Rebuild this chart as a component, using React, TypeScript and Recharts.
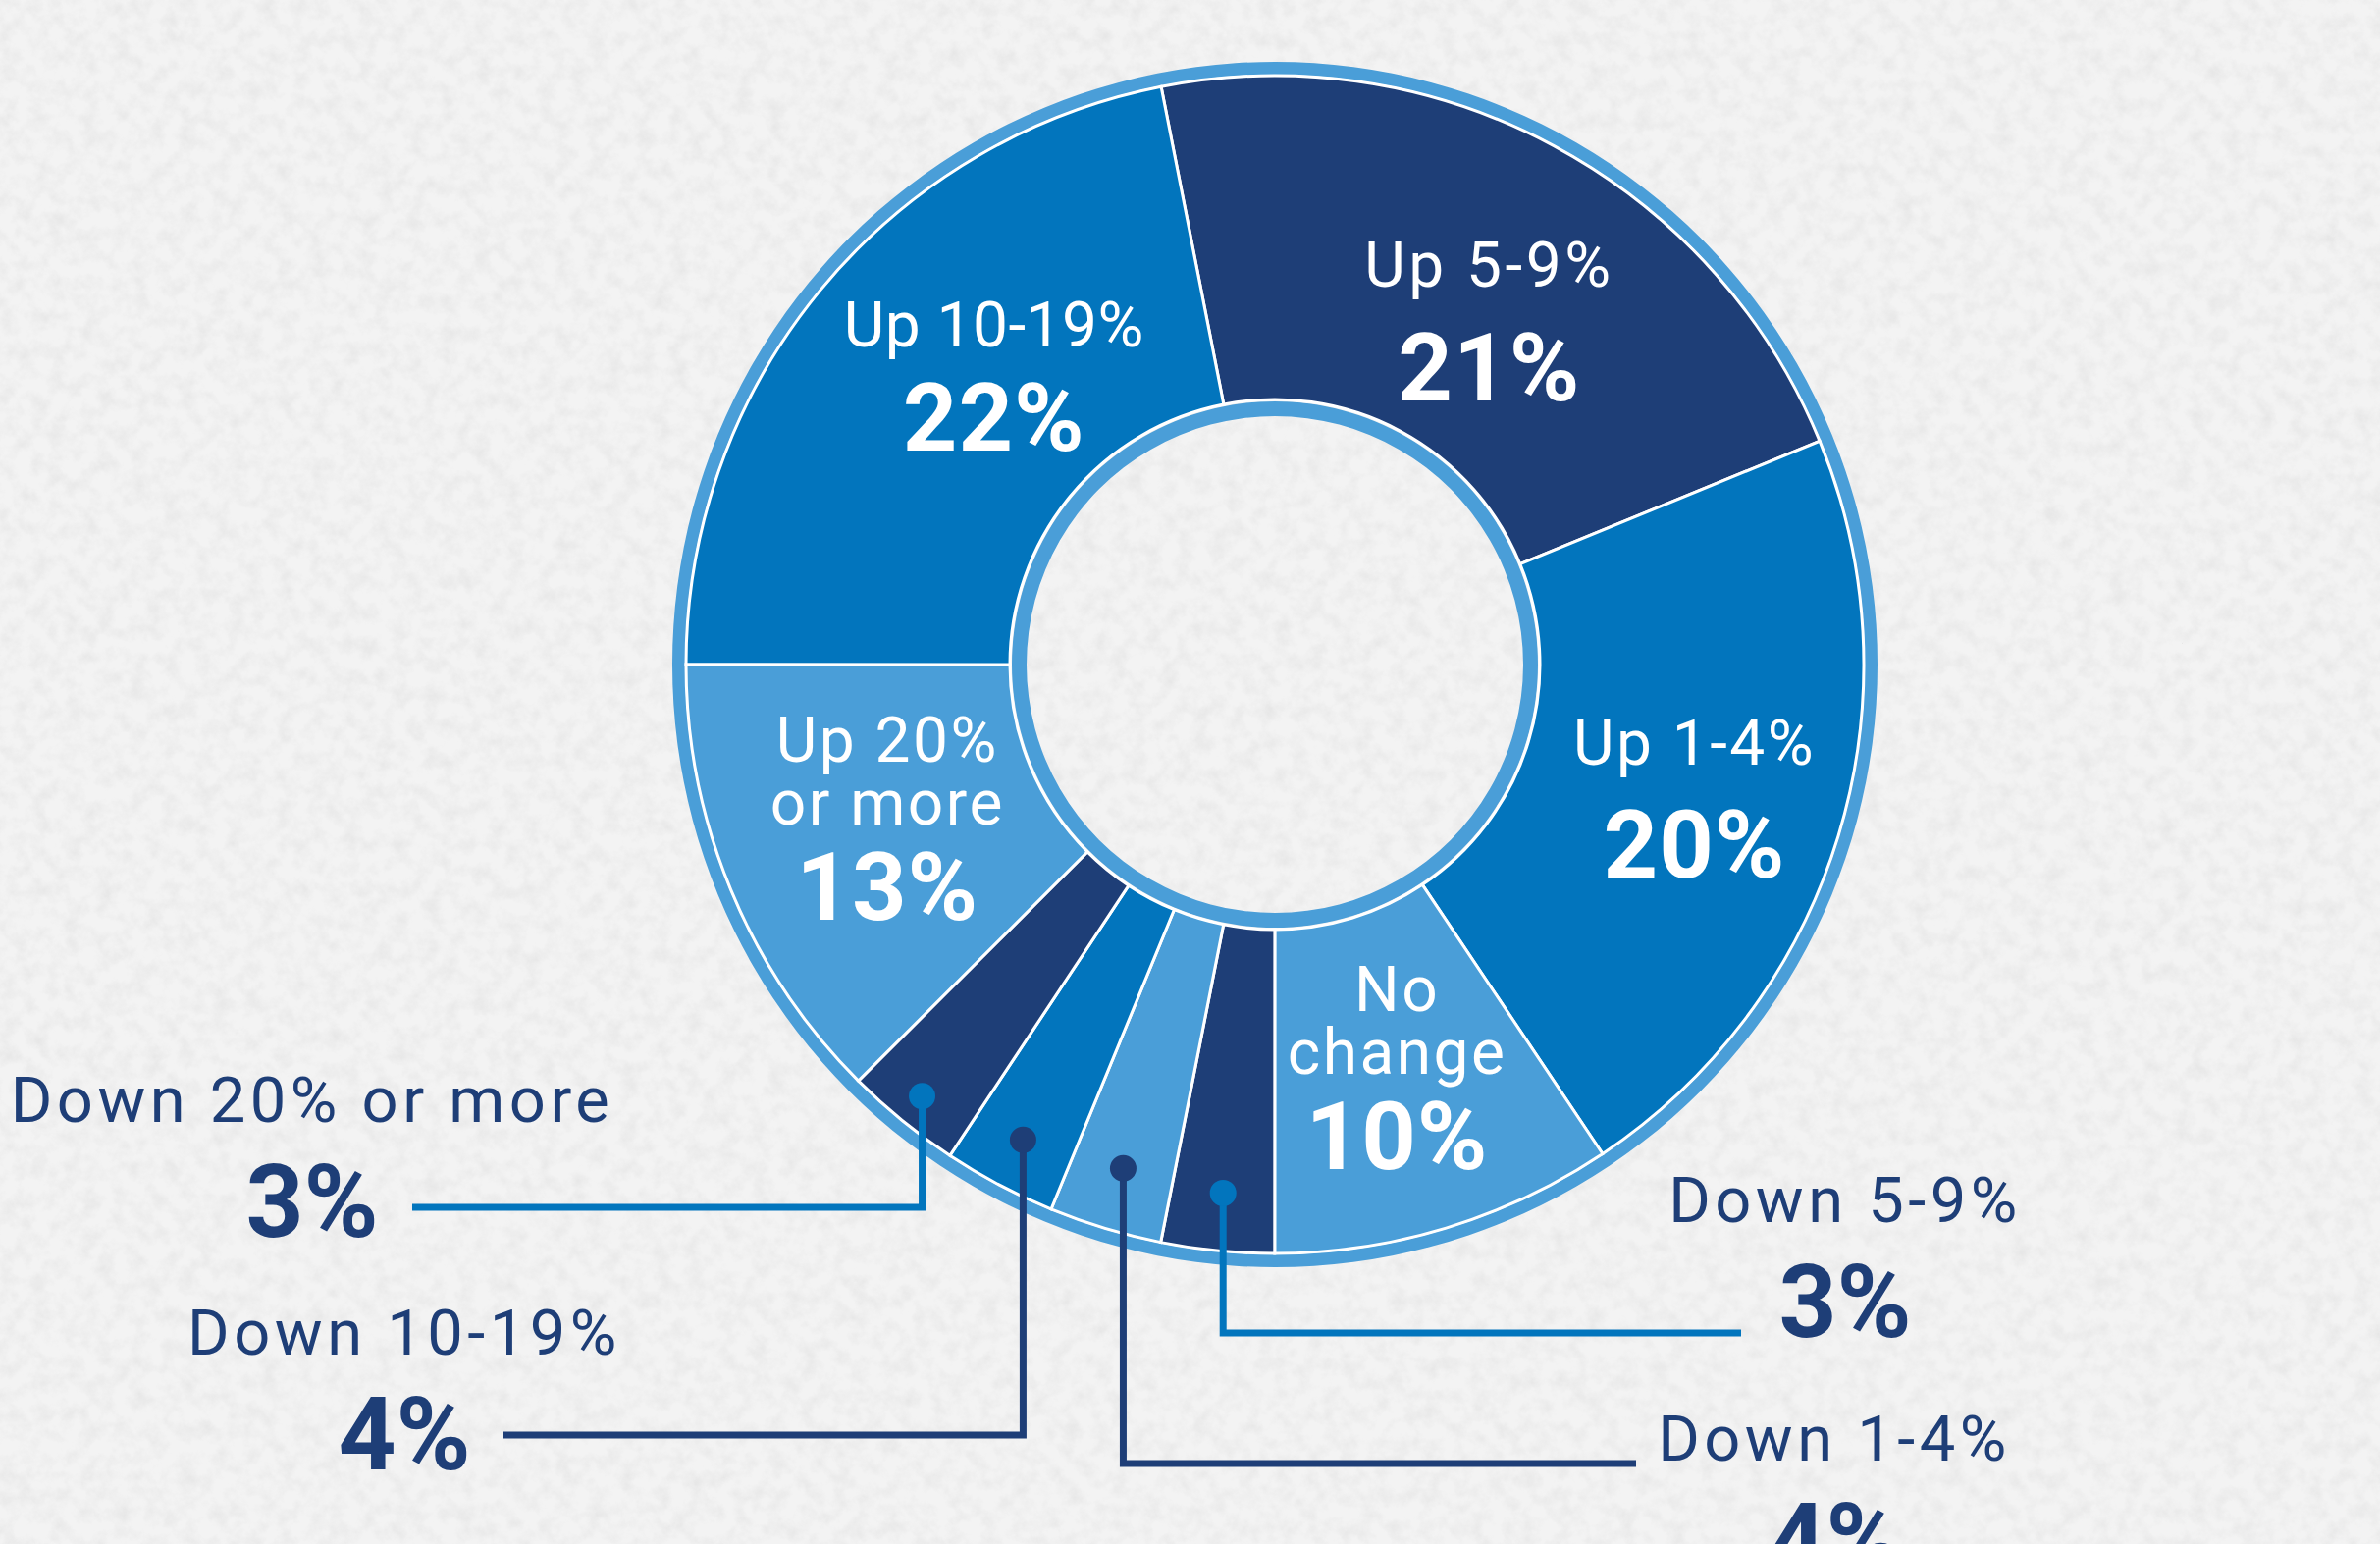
import { PieChart, Pie, Cell } from "recharts";

// slice order runs clockwise from the top
const sliceNames = [
  "Up 5-9%",
  "Up 1-4%",
  "No change",
  "Down 5-9%",
  "Down 1-4%",
  "Down 10-19%",
  "Down 20% or more",
  "Up 20% or more",
  "Up 10-19%",
];
// angular share (percent of the ring)
const sliceShares = [21.9, 21.8, 9.4, 3.1, 3.1, 3.1, 3.2, 12.5, 21.9];
// the percentages printed on the chart
const printedPercents = ["21%", "20%", "10%", "3%", "4%", "4%", "3%", "13%", "22%"];
// how the names wrap inside the ring
const insideLines = [
  ["Up 5-9%"],
  ["Up 1-4%"],
  ["No", "change"],
  [],
  [],
  [],
  [],
  ["Up 20%", "or more"],
  ["Up 10-19%"],
];

const data = sliceNames.map((name, i) => ({
  name,
  share: sliceShares[i],
  printed: printedPercents[i],
  lines: insideLines[i],
}));

const W = 2425;
const H = 1573;
const CX = 1299;
const CY = 677;

const NAVY = "#1e3e77";
const MID = "#0275bd";
const LIGHT = "#4a9ed8";
const COLORS = [NAVY, MID, LIGHT, NAVY, LIGHT, MID, NAVY, LIGHT, MID];

const FONT = "Roboto, 'DejaVu Sans', sans-serif";
const RAD = Math.PI / 180;

// nudges for the labels drawn inside the big slices
const insideNudge: Record<number, [number, number]> = {
  0: [17, -11],
  1: [21, -22],
  2: [1, -54],
  7: [-2, -64],
  8: [42, -54],
};
const insidePctGap: Record<number, number> = { 0: 116, 1: 115, 2: 97, 7: 97, 8: 106 };
const insideSpacing: Record<number, number> = { 0: 3.5, 1: 2.5, 2: 2.5, 7: 2.5, 8: 0.5 };

// callouts for the thin slices
const callouts: Record<
  number,
  { dotR: number; elbowY: number; endX: number; textX: number; nameY: number; pctY: number; color: string }
> = {
  3: { dotR: 541, elbowY: 1358, endX: 1774, textX: 1880, nameY: 1245, pctY: 1362, color: MID },
  4: { dotR: 536, elbowY: 1491, endX: 1667, textX: 1869, nameY: 1488, pctY: 1605, color: NAVY },
  5: { dotR: 548, elbowY: 1462, endX: 513, textX: 412, nameY: 1380, pctY: 1497, color: NAVY },
  6: { dotR: 568, elbowY: 1230, endX: 420, textX: 318, nameY: 1143, pctY: 1260, color: MID },
};

function renderLabel(props: any) {
  const { cx, cy, midAngle, index } = props;
  const d = data[index];
  const c = callouts[index];
  if (c) {
    const dx = cx + c.dotR * Math.cos(-midAngle * RAD);
    const dy = cy + c.dotR * Math.sin(-midAngle * RAD);
    return (
      <g key={`lab-${index}`}>
        <path
          d={`M${dx},${dy} V${c.elbowY} H${c.endX}`}
          fill="none"
          stroke={c.color}
          strokeWidth={7}
        />
        <circle cx={dx} cy={dy} r={13.5} fill={c.color} />
        <text
          x={c.textX}
          y={c.nameY}
          textAnchor="middle"
          fill={NAVY}
          fontFamily={FONT}
          fontSize={65}
          letterSpacing={4.5}
        >
          {d.name}
        </text>
        <text
          x={c.textX}
          y={c.pctY}
          textAnchor="middle"
          fill={NAVY}
          fontFamily={FONT}
          fontWeight={700}
          fontSize={103}
        >
          {d.printed}
        </text>
      </g>
    );
  }
  const [nx, ny] = insideNudge[index] || [0, 0];
  const x = cx + 425 * Math.cos(-midAngle * RAD) + nx;
  const y0 = cy + 425 * Math.sin(-midAngle * RAD) + ny;
  const lastY = y0 + (d.lines.length - 1) * 64;
  return (
    <g key={`lab-${index}`}>
      {d.lines.map((ln: string, j: number) => (
        <text
          key={j}
          x={x}
          y={y0 + j * 64}
          textAnchor="middle"
          fill="#ffffff"
          fontFamily={FONT}
          fontSize={64}
          letterSpacing={insideSpacing[index]}
        >
          {ln}
        </text>
      ))}
      <text
        x={x}
        y={lastY + insidePctGap[index]}
        textAnchor="middle"
        fill="#ffffff"
        fontFamily={FONT}
        fontWeight={700}
        fontSize={97}
        letterSpacing={1}
      >
        {d.printed}
      </text>
    </g>
  );
}

const ring = [{ name: "ring", share: 1 }];

export default function App() {
  return (
    <div
      style={{
        position: "absolute",
        left: 0,
        top: 0,
        width: W,
        height: H,
        overflow: "hidden",
        background: "#efefef",
      }}
    >
      <svg width={W} height={H} style={{ position: "absolute", left: 0, top: 0 }}>
        <filter id="paper">
          <feTurbulence type="fractalNoise" baseFrequency="0.06" numOctaves={4} seed={7} />
          <feColorMatrix
            type="matrix"
            values="0 0 0 0 0.55  0 0 0 0 0.55  0 0 0 0 0.55  1.8 0 0 0 -0.7"
          />
        </filter>
        <rect width={W} height={H} fill="#f3f3f3" />
        <rect width={W} height={H} filter="url(#paper)" opacity={0.25} />
      </svg>
      <div style={{ position: "absolute", left: 0, top: 0 }}>
        <PieChart width={W} height={H} margin={{ top: 0, right: 0, bottom: 0, left: 0 }}>
          <Pie
            data={ring}
            dataKey="share"
            cx={CX}
            cy={CY}
            innerRadius={601}
            outerRadius={614}
            startAngle={90}
            endAngle={-270}
            stroke="none"
            fill={LIGHT}
            isAnimationActive={false}
          />
          <Pie
            data={ring}
            dataKey="share"
            cx={CX}
            cy={CY}
            innerRadius={253}
            outerRadius={268}
            startAngle={90}
            endAngle={-270}
            stroke="none"
            fill={LIGHT}
            isAnimationActive={false}
          />
          <Pie
            data={data}
            dataKey="share"
            nameKey="name"
            cx={CX}
            cy={CY}
            innerRadius={270}
            outerRadius={600}
            startAngle={101.14}
            endAngle={-258.86}
            stroke="#ffffff"
            strokeWidth={3}
            label={renderLabel}
            labelLine={false}
            isAnimationActive={false}
          >
            {data.map((d, i) => (
              <Cell key={d.name} fill={COLORS[i]} />
            ))}
          </Pie>
        </PieChart>
      </div>
    </div>
  );
}
